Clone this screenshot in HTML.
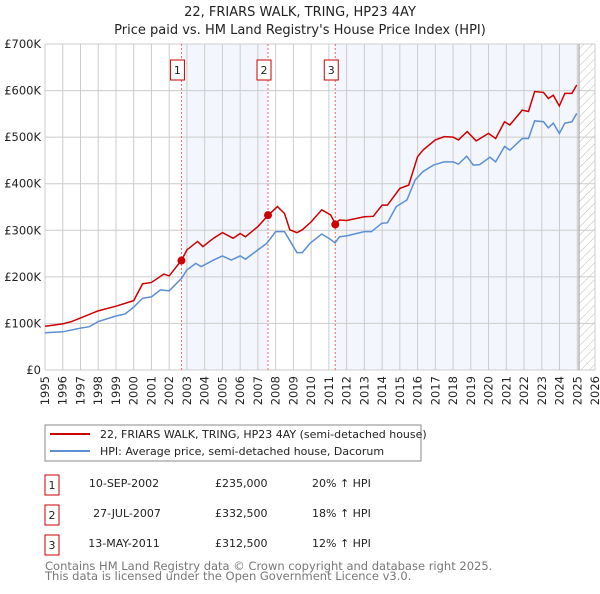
<!DOCTYPE html>
<html><head><meta charset="utf-8"><style>
body{margin:0;background:#fff;font-family:"DejaVu Sans","Liberation Sans",sans-serif;}
svg text{font-family:"DejaVu Sans","Liberation Sans",sans-serif;}
</style></head><body>
<svg id="c" width="600" height="590" xmlns="http://www.w3.org/2000/svg">
<defs><pattern id="hatch" width="6" height="6" patternUnits="userSpaceOnUse" patternTransform="rotate(45)"><line x1="0" y1="0" x2="0" y2="6" stroke="#bbb" stroke-width="1"/></pattern></defs>
<text x="300" y="16" text-anchor="middle" font-size="13" fill="#222">22, FRIARS WALK, TRING, HP23 4AY</text>
<text x="300" y="34" text-anchor="middle" font-size="13" fill="#222">Price paid vs. HM Land Registry's House Price Index (HPI)</text>
<g id="plot"></g>
<rect x="45" y="425" width="376" height="36" fill="#fff" stroke="#888"/>
<line x1="50" y1="434" x2="90" y2="434" stroke="#cc0000" stroke-width="2"/>
<text x="100" y="438" font-size="11" fill="#222">22, FRIARS WALK, TRING, HP23 4AY (semi-detached house)</text>
<line x1="50" y1="451" x2="90" y2="451" stroke="#5b8fd4" stroke-width="2"/>
<text x="100" y="455" font-size="11" fill="#222">HPI: Average price, semi-detached house, Dacorum</text>
<g font-size="11" fill="#222">
<rect x="45" y="475" width="14" height="20" fill="none" stroke="#cc0000"/><text x="52" y="489" text-anchor="middle">1</text>
<text x="124" y="487" text-anchor="middle">10-SEP-2002</text>
<text x="215" y="487">£235,000</text>
<text x="312" y="487">20% ↑ HPI</text>
<rect x="45" y="505" width="14" height="20" fill="none" stroke="#cc0000"/><text x="52" y="519" text-anchor="middle">2</text>
<text x="127" y="517" text-anchor="middle">27-JUL-2007</text>
<text x="215" y="517">£332,500</text>
<text x="312" y="517">18% ↑ HPI</text>
<rect x="45" y="535" width="14" height="20" fill="none" stroke="#cc0000"/><text x="52" y="549" text-anchor="middle">3</text>
<text x="124" y="547" text-anchor="middle">13-MAY-2011</text>
<text x="215" y="547">£312,500</text>
<text x="312" y="547">12% ↑ HPI</text>
</g>
<text x="45" y="570" font-size="11.5" fill="#777">Contains HM Land Registry data © Crown copyright and database right 2025.</text>
<text x="45" y="580" font-size="11.5" fill="#777">This data is licensed under the Open Government Licence v3.0.</text>
</svg>
<script>
const hpiYears=[1995,1996,1997,1997.5,1998,1999,1999.5,2000,2000.5,2001,2001.5,2002,2002.7,2003,2003.5,2003.8,2004.5,2005,2005.5,2006,2006.3,2007,2007.5,2008,2008.5,2009.2,2009.5,2009.94,2010.6,2011.07,2011.35,2011.6,2012,2013,2013.4,2013.98,2014.3,2014.8,2015.4,2015.86,2016.3,2016.9,2017.5,2018,2018.3,2018.77,2019.14,2019.5,2020.08,2020.4,2020.9,2021.2,2021.9,2022.25,2022.6,2023.1,2023.37,2023.65,2023.99,2024.3,2024.7,2024.97];
const hpiValues=[80,82,90,93,104,116,120,135,154,157,172,170,197,215,229,222,236,245,236,245,238,258,272,297,297,252,252,272,292,281,273,286,288,297,297,315,316,351,365,408,426,440,447,447,442,459,440,441,457,447,480,472,497,497,535,533,520,530,508,530,533,551];
const priceYears=[1995,1996,1996.5,1998,1999,2000,2000.5,2001,2001.7,2002,2002.7,2003,2003.6,2003.9,2004.5,2005,2005.6,2006,2006.3,2007,2007.6,2008.1,2008.5,2008.8,2009.2,2009.5,2010,2010.6,2011.1,2011.35,2011.6,2012,2013,2013.5,2014,2014.3,2015,2015.5,2016,2016.3,2017,2017.5,2018,2018.3,2018.8,2019.3,2020,2020.4,2020.9,2021.2,2021.9,2022.25,2022.6,2023.1,2023.37,2023.65,2023.99,2024.3,2024.7,2024.97];
const priceValues=[94,99,104,127,137,149,185,188,206,202,236,258,276,265,283,295,283,293,286,308,333,351,336,301,295,301,318,344,333,315,322,321,329,330,354,354,390,397,458,472,494,501,500,494,512,492,508,497,533,526,558,555,598,596,583,590,567,594,594,612];
const saleYears=[2002.69,2007.57,2011.36];
const saleValues=[235,332.5,312.5];
const saleLabels=["1","2","3"];
const yTicks=[0,100,200,300,400,500,600,700];
const yTickLabels=["£0","£100K","£200K","£300K","£400K","£500K","£600K","£700K"];
const xTicks=[];for(let y=1995;y<=2026;y++)xTicks.push(y);
const dataEnd=2025.1;

const X0=45,X1=595,Y0=370,Y1=44;
const xs=y=>X0+(y-1995)/(2026-1995)*(X1-X0);
const ys=v=>Y0-v/700*(Y0-Y1);
const NS="http://www.w3.org/2000/svg";
const g=document.getElementById('plot');
function mk(t,a){const e=document.createElementNS(NS,t);for(const k in a)e.setAttribute(k,a[k]);g.appendChild(e);return e;}

let r=mk('rect',{x:X0,y:Y1,width:X1-X0,height:Y0-Y1,fill:'#fff'});


[[saleYears[0],saleYears[1]],[saleYears[2],dataEnd]].forEach((p,i)=>{
 const s=mk('rect',{x:xs(p[0]),y:Y1,width:xs(p[1])-xs(p[0]),height:Y0-Y1,fill:'#f3f6fd'});
 
 
});
const h=mk('rect',{x:xs(dataEnd),y:Y1,width:X1-xs(dataEnd),height:Y0-Y1,fill:'url(#hatch)'});


xTicks.forEach(t=>{
 const l=mk('line',{x1:xs(t),x2:xs(t),y1:Y1,y2:Y0,stroke:'#ccc','stroke-width':1});
 
 
 const tx=mk('text',{x:0,y:0,'font-size':11.5,fill:'#222','text-anchor':'end',transform:`translate(${xs(t)+4},${Y0+6}) rotate(-90)`});
 tx.textContent=t;
 
 
});
yTicks.forEach((t,i)=>{
 const l=mk('line',{x1:X0,x2:X1,y1:ys(t),y2:ys(t),stroke:'#ccc','stroke-width':1});
 
 
 const tx=mk('text',{x:X0-4,y:ys(t)+4,'font-size':11.5,fill:'#222','text-anchor':'end'});
 tx.textContent=yTickLabels[i];
 
 
});
const endL=mk('line',{x1:xs(dataEnd),x2:xs(dataEnd),y1:Y1,y2:Y0,stroke:'#999','stroke-width':1});


saleYears.forEach((s,i)=>{
 const l=mk('line',{x1:xs(s),x2:xs(s),y1:Y1,y2:Y0,stroke:'#e66','stroke-width':1,'stroke-dasharray':'2,2'});
 
 
 const b=mk('rect',{x:xs(s)-11,y:60,width:14,height:20,fill:'#fff',stroke:'#cc0000'});
 
 
 const t=mk('text',{x:xs(s)-4,y:74,'font-size':11,fill:'#222','text-anchor':'middle'});
 t.textContent=saleLabels[i];
 
 
});
const hp=mk('polyline',{points:hpiYears.map((y,i)=>xs(y)+','+ys(hpiValues[i])).join(' '),fill:'none',stroke:'#5b8fd4','stroke-width':1.5});


const pp=mk('polyline',{points:priceYears.map((y,i)=>xs(y)+','+ys(priceValues[i])).join(' '),fill:'none',stroke:'#cc0000','stroke-width':1.5});


saleYears.forEach((s,i)=>{
 const c=mk('circle',{cx:xs(s),cy:ys(saleValues[i]),r:4,fill:'#cc0000'});
 
 
});
</script>
</body></html>
